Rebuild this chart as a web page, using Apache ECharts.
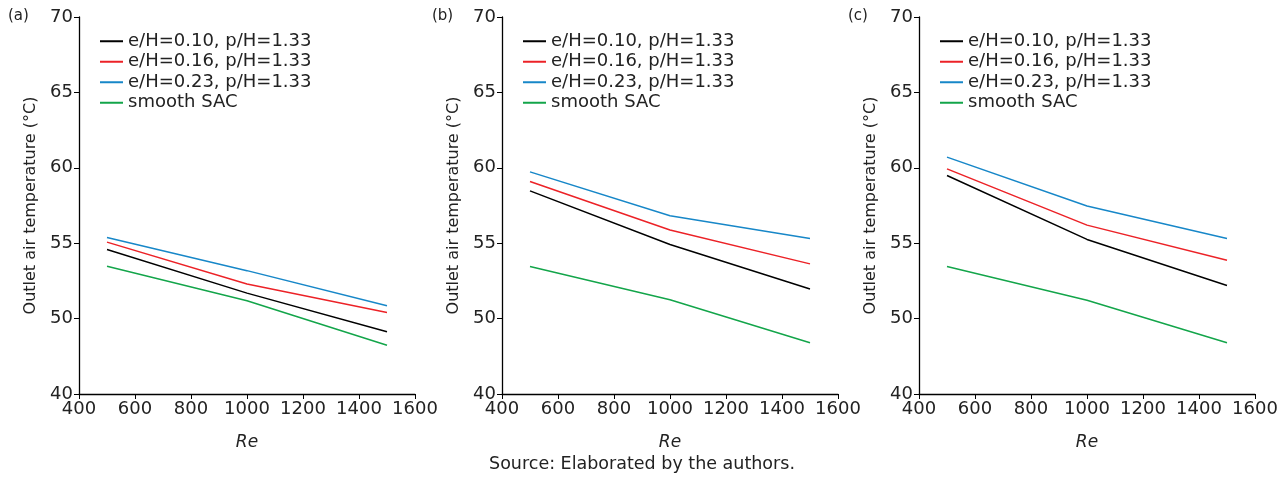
<!DOCTYPE html>
<html><head><meta charset="utf-8">
<script src="https://cdn.jsdelivr.net/npm/echarts@6/dist/echarts.min.js"></script>
<style>html,body{margin:0;padding:0;background:#fff}#c{width:1284px;height:477px}</style>
</head><body><div id="c"></div>
<script>
const reValues = [500, 1000, 1500];
const seriesNames = ['e/H=0.10, p/H=1.33', 'e/H=0.16, p/H=1.33', 'e/H=0.23, p/H=1.33', 'smooth SAC'];
const panelLabels = ['(a)', '(b)', '(c)'];
// panel (a)
const a_e010 = [54.58, 51.69, 49.13];
const a_e016 = [55.07, 52.29, 50.40];
const a_e023 = [55.38, 53.18, 50.85];
const a_smooth = [53.47, 51.18, 48.23];
// panel (b)
const b_e010 = [58.47, 54.91, 51.96];
const b_e016 = [59.09, 55.87, 53.63];
const b_e023 = [59.73, 56.82, 55.31];
const b_smooth = [53.45, 51.25, 48.40];
// panel (c)
const c_e010 = [59.49, 55.25, 52.20];
const c_e016 = [59.93, 56.20, 53.87];
const c_e023 = [60.71, 57.47, 55.31];
const c_smooth = [53.45, 51.22, 48.40];
const yTickLabels = {45: '40', 50: '50', 55: '55', 60: '60', 65: '65', 70: '70'};

const panels = [[a_e010, a_e016, a_e023, a_smooth], [b_e010, b_e016, b_e023, b_smooth], [c_e010, c_e016, c_e023, c_smooth]];
const colors = ['#000000', '#ec2227', '#1787c8', '#13a54a'];
const lefts = [79, 502, 919];
const font = 'DejaVu Sans';

const chart = echarts.init(document.getElementById('c'));
const grids = [], xAxes = [], yAxes = [], series = [], legends = [], graphics = [];
panels.forEach((p, i) => {
  grids.push({left: lefts[i], top: 17, width: 336, height: 377});
  xAxes.push({type: 'value', gridIndex: i, min: 400, max: 1600, interval: 200,
    name: 'Re', nameLocation: 'middle', nameGap: 40,
    nameTextStyle: {fontFamily: font, fontSize: 17, fontStyle: 'italic', color: '#222'},
    axisLine: {lineStyle: {color: '#000', width: 1.3}},
    axisTick: {length: 5, lineStyle: {color: '#000'}},
    axisLabel: {fontFamily: font, fontSize: 18, color: '#222', margin: 6, formatter: v => String(v)},
    splitLine: {show: false}});
  yAxes.push({type: 'value', gridIndex: i, min: 45, max: 70, interval: 5,
    name: 'Outlet air temperature (°C)', nameLocation: 'middle', nameGap: 40,
    nameTextStyle: {fontFamily: font, fontSize: 16, color: '#222'},
    axisLine: {show: true, lineStyle: {color: '#000', width: 1.3}},
    axisTick: {show: true, length: 5, lineStyle: {color: '#000'}},
    axisLabel: {fontFamily: font, fontSize: 18, color: '#222', margin: 6,
      formatter: v => yTickLabels[v] !== undefined ? yTickLabels[v] : ''},
    splitLine: {show: false}});
  p.forEach((vals, k) => {
    series.push({type: 'line', name: seriesNames[k], xAxisIndex: i, yAxisIndex: i,
      data: reValues.map((x, j) => [x, vals[j]]), showSymbol: false, symbol: 'none',
      lineStyle: {color: colors[k], width: 1.5}, itemStyle: {color: colors[k]}, animation: false});
  });
  legends.push({orient: 'vertical', left: lefts[i] + 16, top: 26, itemWidth: 23, itemHeight: 2,
    itemGap: 0, icon: 'rect', data: seriesNames, selectedMode: false,
    textStyle: {fontFamily: font, fontSize: 18, color: '#222', lineHeight: 20.5}});
  graphics.push({type: 'text', left: [8, 432, 848][i], top: 9,
    style: {text: panelLabels[i], font: '15px ' + font, fill: '#222'}});
});
graphics.push({type: 'text', left: 'center', top: 455,
  style: {text: 'Source: Elaborated by the authors.', font: '17.5px ' + font, fill: '#222'}});

chart.setOption({animation: false, grid: grids, xAxis: xAxes, yAxis: yAxes, series, legend: legends, graphic: graphics});
</script></body></html>
